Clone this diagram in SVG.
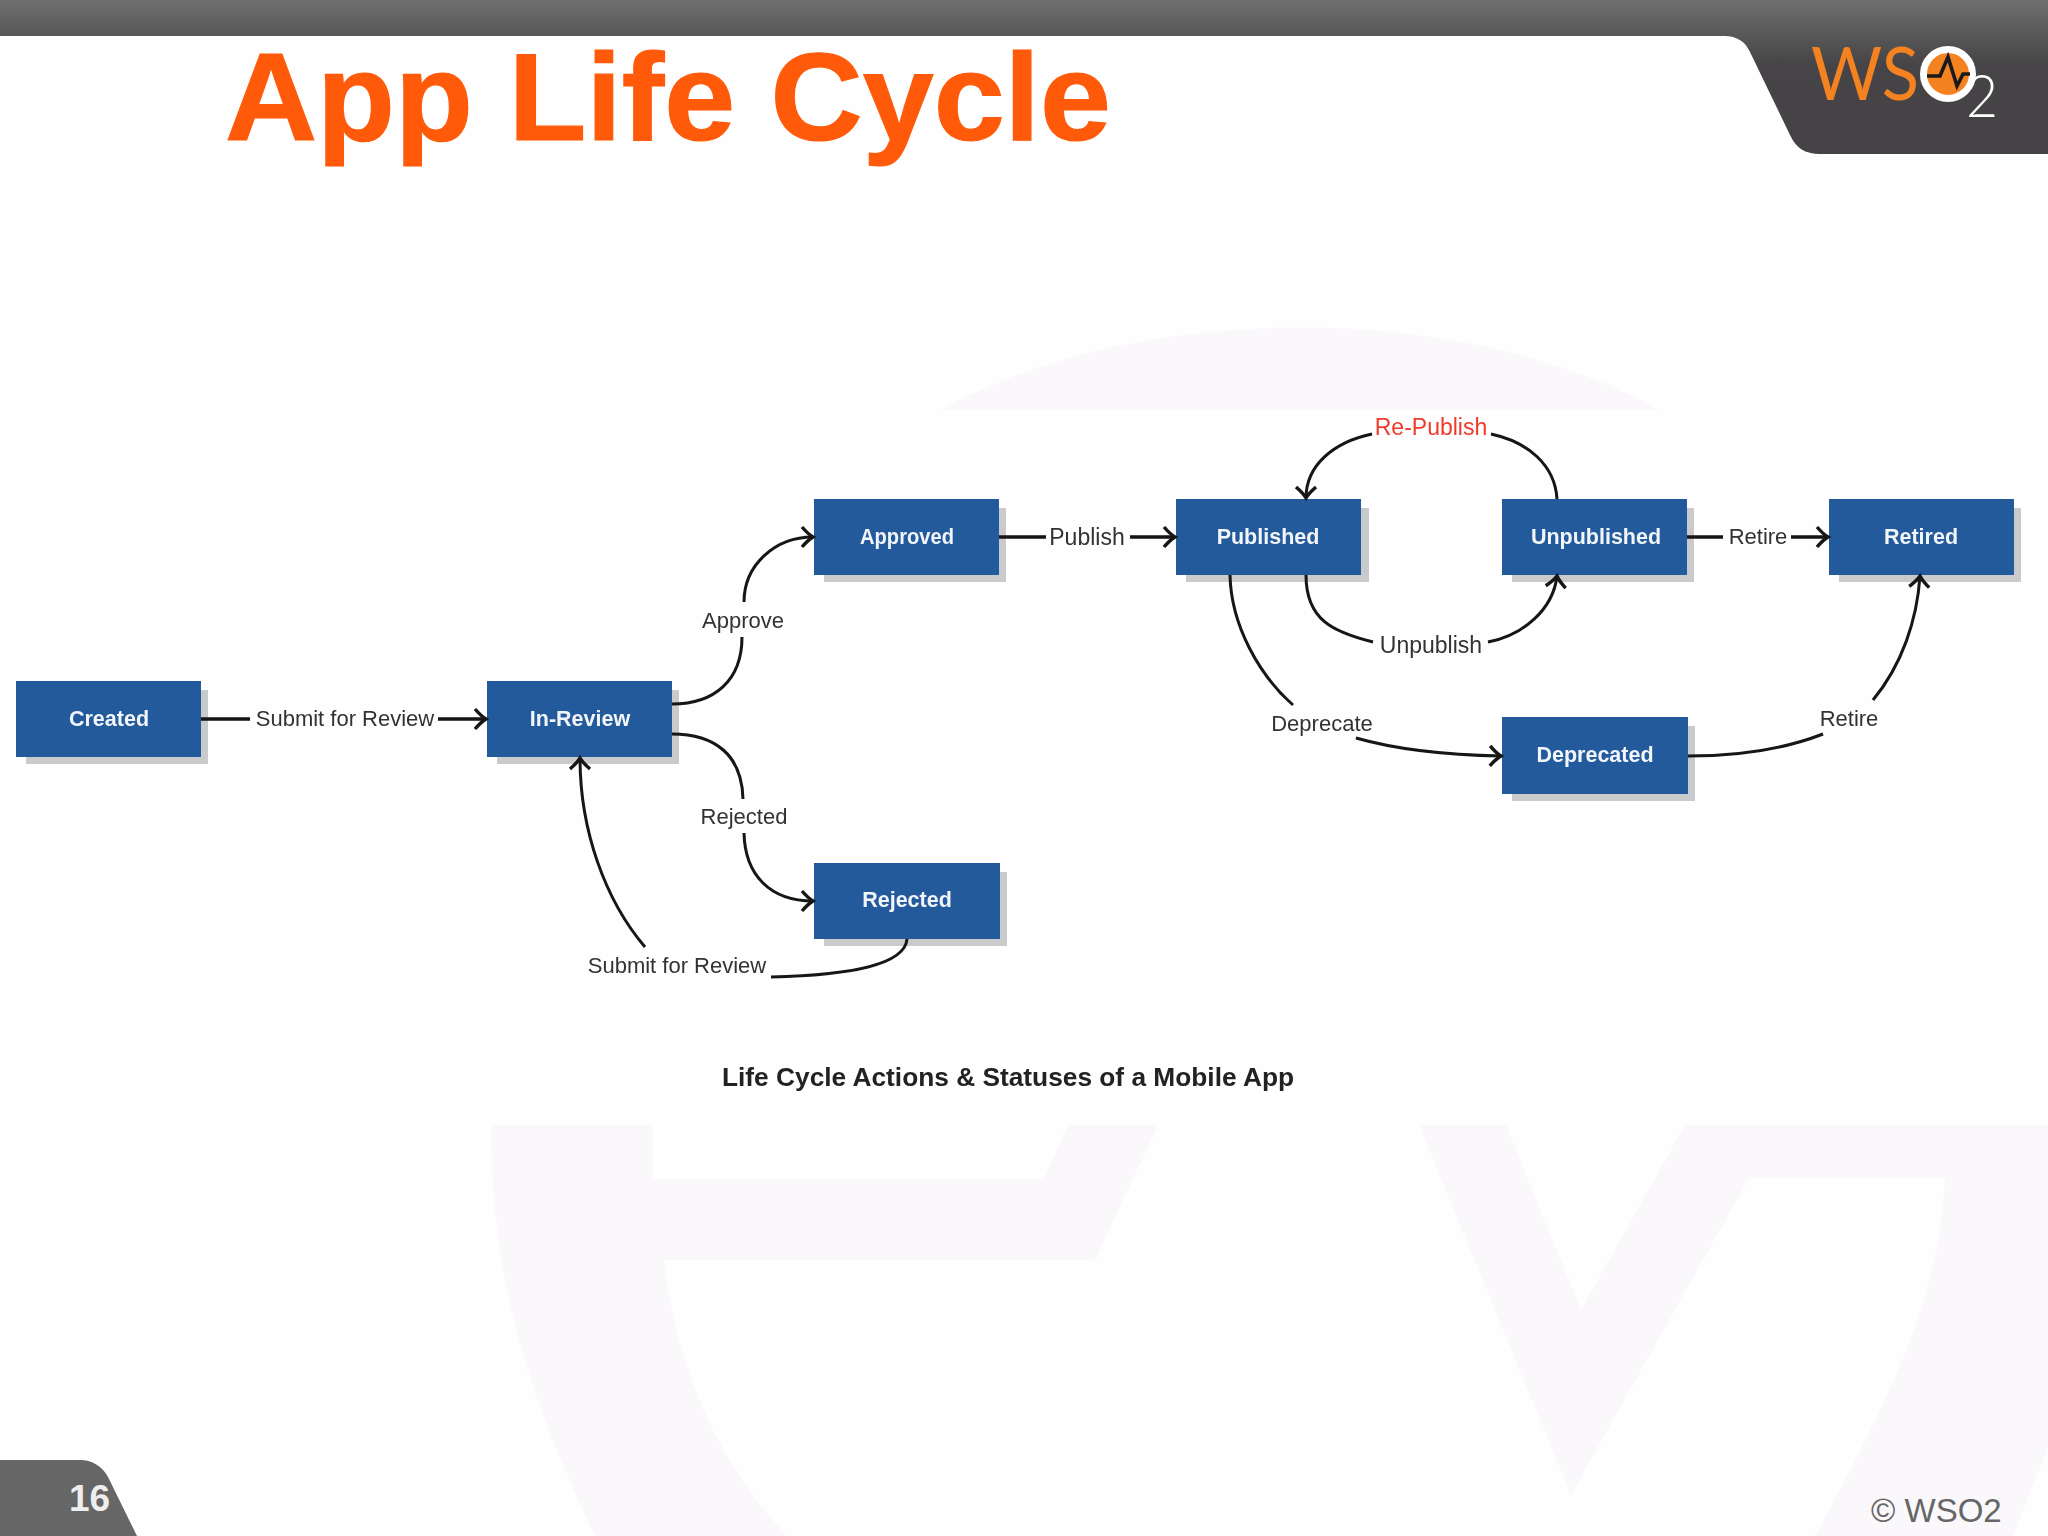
<svg xmlns="http://www.w3.org/2000/svg" width="2048" height="1536" viewBox="0 0 2048 1536">
<style>
text{font-family:"Liberation Sans",Arial,sans-serif}
.box{fill:#235a9b}
.sh{fill:#c9cacc}
.n{fill:#f2f5f9;font-size:21.5px;font-weight:bold;text-anchor:middle}
.l{fill:#333;font-size:22px;text-anchor:middle}
.w{font-size:23px}
.c{fill:none;stroke:#141414;stroke-width:3}
.s{stroke-width:3.6}
.wm{fill:#faf8fb}
</style>
<defs>
<linearGradient id="hd" x1="0" y1="0" x2="0" y2="154" gradientUnits="userSpaceOnUse">
<stop offset="0" stop-color="#6f6f6f"/><stop offset="0.42" stop-color="#464446"/><stop offset="1" stop-color="#444244"/>
</linearGradient>
<marker id="a" markerUnits="userSpaceOnUse" markerWidth="18" markerHeight="26" refX="14" refY="13" orient="auto">
<path d="M3 3 Q9 10 14 13 Q9 16 3 23" fill="none" stroke="#141414" stroke-width="3.4"/>
</marker>
<filter id="b" x="0" y="0" width="1" height="1"><feGaussianBlur stdDeviation="0.45"/></filter>
</defs>
<rect width="2048" height="1536" fill="#fefefe"/>
<g id="watermark">
<path class="wm" d="M940 410 C1140 300 1460 300 1660 410Z"/>
<path class="wm" d="M491 1125 H653 V1179 H1044 L1068 1125 H1158 L1095 1260 H664 C675 1360 715 1460 787 1536 H595 C530 1400 491 1280 491 1125Z"/>
<path class="wm" d="M1419 1125 H1506 L1581 1310 L1685 1125 H2048 V1447 L2013 1536 H1815 C1900 1380 1940 1290 1945 1178 H1749 L1571 1495Z"/>
</g>
<g id="header">
<path fill="url(#hd)" d="M0 0 H2048 V154 H1820 C1805 154 1796 148 1790 135 L1750 52 C1745 41 1736 36 1725 36 H0Z"/>
<g id="logo">
<text x="1811" y="100" font-size="74" fill="#f58220" style="font-family:Lato,'Liberation Sans',sans-serif;font-weight:400" textLength="108" lengthAdjust="spacingAndGlyphs">WS</text>
<circle cx="1948" cy="74" r="24.5" fill="#f58220" stroke="#fff" stroke-width="7"/>
<polyline points="1927,76 1940,76 1948,57 1957,86 1963,74 1970,74" fill="none" stroke="#1a1a1a" stroke-width="3.6"/>
<text x="1966" y="117" font-size="60" fill="#fff" style="font-family:Lato,'Liberation Sans',sans-serif;font-weight:300" textLength="32" lengthAdjust="spacingAndGlyphs">2</text>
</g>
</g>
<text id="title" x="225" y="140" font-size="125" font-weight="bold" fill="#ff5a0a" stroke="#ff5a0a" stroke-width="1.2" textLength="886" lengthAdjust="spacingAndGlyphs">App Life Cycle</text>
<g filter="url(#b)">
<g id="created"><rect class="sh" x="26" y="690" width="182" height="74"/><rect class="box" x="16" y="681" width="185" height="76"/><text class="n" x="109" y="726">Created</text></g>
<g id="in-review"><rect class="sh" x="497" y="690" width="182" height="74"/><rect class="box" x="487" y="681" width="185" height="76"/><text class="n" x="580" y="726">In-Review</text></g>
<g id="approved"><rect class="sh" x="824" y="508" width="182" height="74"/><rect class="box" x="814" y="499" width="185" height="76"/><text class="n" x="907" y="544" textLength="94" lengthAdjust="spacingAndGlyphs">Approved</text></g>
<g id="rejected"><rect class="sh" x="824" y="872" width="183" height="74"/><rect class="box" x="814" y="863" width="186" height="76"/><text class="n" x="907" y="907">Rejected</text></g>
<g id="published"><rect class="sh" x="1186" y="508" width="183" height="74"/><rect class="box" x="1176" y="499" width="185" height="76"/><text class="n" x="1268" y="544">Published</text></g>
<g id="unpublished"><rect class="sh" x="1512" y="508" width="182" height="74"/><rect class="box" x="1502" y="499" width="185" height="76"/><text class="n" x="1596" y="544">Unpublished</text></g>
<g id="retired"><rect class="sh" x="1839" y="508" width="182" height="74"/><rect class="box" x="1829" y="499" width="185" height="76"/><text class="n" x="1921" y="544">Retired</text></g>
<g id="deprecated"><rect class="sh" x="1512" y="726" width="183" height="75"/><rect class="box" x="1502" y="717" width="186" height="77"/><text class="n" x="1595" y="762">Deprecated</text></g>
<g id="connectors">
<path class="c s" d="M201 719 H250"/><path class="c s" marker-end="url(#a)" d="M438 719 H486"/>
<path class="c" d="M672 704 C715 704 742 680 742 637"/><path class="c" marker-end="url(#a)" d="M744 602 C744 565 775 537 813 537"/>
<path class="c" d="M672 734 C715 734 742 755 743 799"/><path class="c" marker-end="url(#a)" d="M744 833 C745 875 770 901 813 901"/>
<path class="c" d="M907 939 C905 965 850 975 771 977"/><path class="c" marker-end="url(#a)" d="M645 947 C605 900 580 830 580 758"/>
<path class="c s" d="M999 537 H1046"/><path class="c s" marker-end="url(#a)" d="M1130 537 H1175"/>
<path class="c" d="M1557 499 C1555 465 1528 442 1491 434"/><path class="c" marker-end="url(#a)" d="M1372 434 C1334 442 1306 465 1306 498"/>
<path class="c" d="M1306 575 C1306 620 1333 632 1373 642"/><path class="c" marker-end="url(#a)" d="M1488 642 C1523 635 1553 610 1557 576"/>
<path class="c" d="M1230 575 C1231 625 1259 675 1293 705"/><path class="c" marker-end="url(#a)" d="M1356 738 C1398 750 1448 755 1501 756"/>
<path class="c" d="M1688 756 C1737 756 1782 750 1823 734"/><path class="c" marker-end="url(#a)" d="M1873 700 C1902 665 1917 620 1920 576"/>
<path class="c s" d="M1687 537 H1723"/><path class="c s" marker-end="url(#a)" d="M1791 537 H1828"/>
</g>
<g id="edge-labels">
<text class="l" x="345" y="726">Submit for Review</text>
<text class="l" x="743" y="628">Approve</text>
<text class="l" x="744" y="824">Rejected</text>
<text class="l" x="677" y="973">Submit for Review</text>
<text class="l w" x="1087" y="545">Publish</text>
<text class="l w" x="1431" y="435" style="fill:#f03a2a">Re-Publish</text>
<text class="l w" x="1431" y="653">Unpublish</text>
<text class="l" x="1322" y="731">Deprecate</text>
<text class="l" x="1758" y="544">Retire</text>
<text class="l" x="1849" y="726">Retire</text>
</g>
<text id="caption" x="722" y="1086" font-size="25" font-weight="bold" fill="#222" textLength="572" lengthAdjust="spacingAndGlyphs">Life Cycle Actions &amp; Statuses of a Mobile App</text>
</g>
<g id="footer">
<path fill="#666" d="M0 1460 H80 C92 1460 102 1466 108 1477 L137 1536 H0Z"/>
<text x="69" y="1511" font-size="37" font-weight="bold" fill="#eee">16</text>
<text x="1871" y="1522" font-size="33" fill="#666">© WSO2</text>
</g>
</svg>
